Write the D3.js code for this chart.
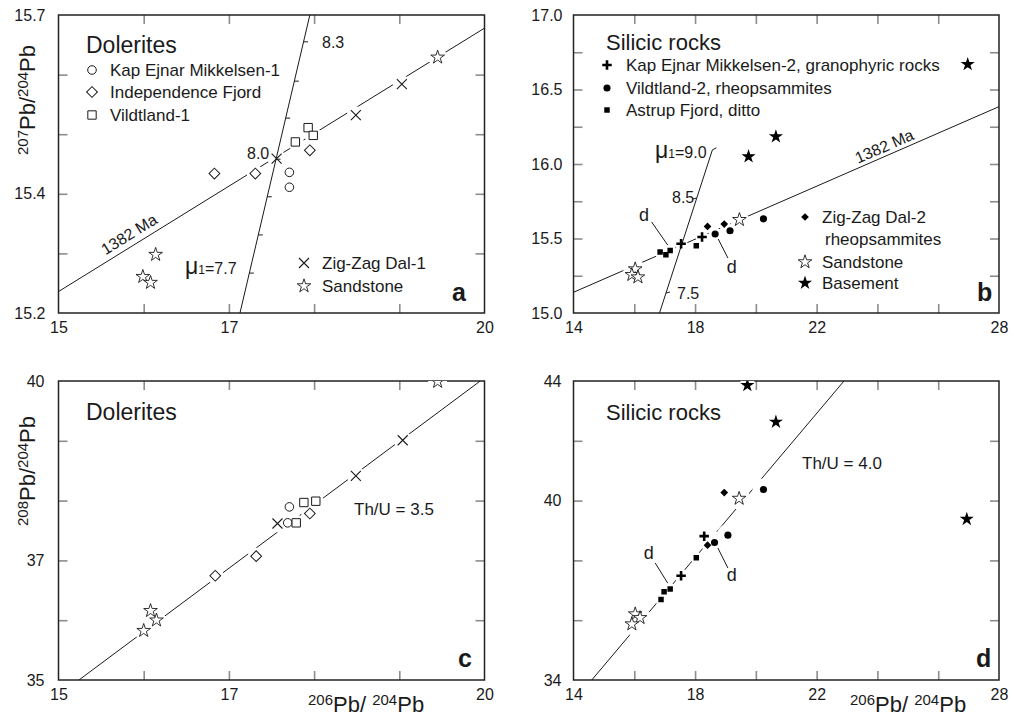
<!DOCTYPE html>
<html><head><meta charset="utf-8">
<script src="https://cdn.jsdelivr.net/npm/d3@7"></script>
<style>body{margin:0;background:#fff;} svg{display:block;}</style>
</head><body>
<svg id="chart" width="1014" height="717"></svg>
<script>
// ---------------- DATA ----------------
// Panel a : 207Pb/204Pb vs 206Pb/204Pb, dolerites
const kem1_a  = [[17.71,15.436],[17.71,15.411]];
const indep_a = [[16.83,15.434],[17.31,15.434],[17.95,15.473]];
const vild1_a = [[17.93,15.511],[17.99,15.498],[17.78,15.487]];
const zzd1_a  = [[17.56,15.459],[18.49,15.532],[19.03,15.584]];
const sand_a  = [[19.45,15.629],[16.14,15.298],[15.99,15.261],[16.08,15.251]];
const iso_a   = [[15,15.236],[20,15.678]];          // 1382 Ma reference line
const mu_a    = [[17.13,15.2],[17.95,15.7]];          // mu growth line
const muTickY_a = [15.655,15.589,15.527,15.458,15.395,15.331,15.267]; // 8.3 ... 7.7

// Panel b : 207Pb/204Pb vs 206Pb/204Pb, silicic rocks
const kem2_b  = [[17.54,15.465],[18.23,15.51]];
const vild2_b = [[18.66,15.53],[19.15,15.552],[20.25,15.632]];
const astr_b  = [[16.85,15.409],[17.04,15.391],[17.18,15.42],[18.04,15.451]];
const zzd2_b  = [[18.41,15.581],[18.96,15.597]];
const sand_b  = [[19.46,15.626],[16.03,15.295],[15.92,15.257],[16.12,15.241]];
const base_b  = [[26.97,16.669],[20.66,16.184],[19.76,16.05]];
const iso_b   = [[14,15.139],[28,16.385]];
const mu_b    = [[16.83,15.0],[18.57,16.095]];

// Panel c : 208Pb/204Pb vs 206Pb/204Pb, dolerites
const kem1_c  = [[17.71,37.895],[17.69,37.628]];
const indep_c = [[16.84,36.743],[17.32,37.071],[17.95,37.784]];
const vild1_c = [[17.88,37.968],[18.02,37.99],[17.79,37.628]];
const zzd1_c  = [[17.57,37.617],[18.49,38.413],[19.04,39.009]];
const sand_c  = [[19.45,39.99],[16.08,36.158],[16.15,36.0],[16.0,35.825]];
const thu_c   = [[15.24,35],[19.95,40]];

// Panel d : 208Pb/204Pb vs 206Pb/204Pb, silicic rocks
const kem2_d  = [[17.54,37.486],[18.30,38.811]];
const vild2_d = [[18.64,38.599],[19.08,38.844],[20.25,40.37]];
const astr_d  = [[16.88,36.695],[16.98,36.95],[17.18,37.04],[18.04,38.087]];
const zzd2_d  = [[18.41,38.51],[18.96,40.27]];
const sand_d  = [[19.45,40.07],[16.03,36.205],[16.19,36.08],[15.92,35.87]];
const base_d  = [[19.72,43.855],[20.66,42.63],[26.94,39.38]];
const thu_d   = [[14.60,34],[22.90,44]];

// Ticks and tick labels
const xTicks_ad = [16,17,18,19];      const xLabels_ad = [15,17,20];
const xTicks_bd = [16,18,20,22,24,26]; const xLabels_bd = [14,18,22,28];
const yTicks_a = [15.3,15.4,15.5,15.6]; const yLabels_a = [15.2,15.4,15.7];
const yTicks_b = [15.25,15.5,15.75,16,16.25,16.5,16.75]; const yLabels_b = [15.0,15.5,16.0,16.5,17.0];
const yTicks_c = [36,37,38,39]; const yLabels_c = [35,37,40];
const yTicks_d = [36,38,40,42]; const yLabels_d = [34,40,44];

// ---------------- DRAWING ----------------
const FONT = "'Liberation Sans', Arial, Helvetica, sans-serif";
const INK = "#1a1a1a";
const svg = d3.select("#chart").attr("font-family", FONT);

const boxes = {
  a:{l:58.5, r:484.5, t:15,  b:313},
  b:{l:573.5,r:999,   t:15,  b:313},
  c:{l:58.5, r:484.5, t:381, b:680},
  d:{l:573.5,r:999,   t:381, b:680}
};

// custom symbols
const symX = {draw(ctx,size){const h=Math.sqrt(size)/2;ctx.moveTo(-h,-h);ctx.lineTo(h,h);ctx.moveTo(h,-h);ctx.lineTo(-h,h);}};
const symPlus = {draw(ctx,size){const h=Math.sqrt(size)/2;ctx.moveTo(-h,0);ctx.lineTo(h,0);ctx.moveTo(0,-h);ctx.lineTo(0,h);}};

const STY = {
  circleO: {type:d3.symbolCircle, size:58, fill:"#fff", stroke:INK, sw:1},
  diamondO:{type:d3.symbolSquare, size:58, fill:"#fff", stroke:INK, sw:1, rot:45},
  squareO: {type:d3.symbolSquare, size:70, fill:"#fff", stroke:INK, sw:1},
  cross:   {type:symX, size:100, fill:"none", stroke:INK, sw:1.1},
  starO:   {type:d3.symbolStar, size:58, fill:"#fff", stroke:INK, sw:0.9},
  plus:    {type:symPlus, size:90, fill:"none", stroke:"#000", sw:2.6},
  circleF: {type:d3.symbolCircle, size:40, fill:"#000", stroke:"none", sw:0},
  squareF: {type:d3.symbolSquare, size:30, fill:"#000", stroke:"none", sw:0},
  diamondF:{type:d3.symbolSquare, size:30, fill:"#000", stroke:"none", sw:0, rot:45},
  starF:   {type:d3.symbolStar, size:62, fill:"#000", stroke:"none", sw:0}
};

function symbolAt(g, px, py, s){
  g.append("path")
    .attr("d", d3.symbol().type(s.type).size(s.size)())
    .attr("transform", `translate(${px},${py})` + (s.rot?` rotate(${s.rot})`:""))
    .attr("fill", s.fill).attr("stroke", s.stroke).attr("stroke-width", s.sw);
}

function makePanel(id, xDomain, yDomain, xt, xl, yt, yl, yfmt, ypad){
  const box = boxes[id];
  const x = d3.scaleLinear().domain(xDomain).range([box.l, box.r]);
  const y = d3.scaleLinear().domain(yDomain).range([box.b, box.t]);
  const g = svg.append("g");
  svg.append("clipPath").attr("id","clip-"+id).append("rect")
    .attr("x",box.l).attr("y",box.t).attr("width",box.r-box.l).attr("height",box.b-box.t);

  const tickStyle = sel => {
    sel.select(".domain").remove();
    sel.selectAll(".tick line").attr("stroke","#8c8c8c").attr("stroke-width",1.6);
  };
  g.append("g").attr("transform",`translate(0,${box.b})`)
    .call(d3.axisBottom(x).tickValues(xt).tickSize(-9).tickFormat("")).call(tickStyle);
  g.append("g").attr("transform",`translate(0,${box.t})`)
    .call(d3.axisTop(x).tickValues(xt).tickSize(-9).tickFormat("")).call(tickStyle);
  g.append("g").attr("transform",`translate(${box.l},0)`)
    .call(d3.axisLeft(y).tickValues(yt).tickSize(-9).tickFormat("")).call(tickStyle);
  g.append("g").attr("transform",`translate(${box.r},0)`)
    .call(d3.axisRight(y).tickValues(yt).tickSize(-9).tickFormat("")).call(tickStyle);

  const labStyle = sel => {
    sel.select(".domain").remove();
    sel.attr("font-family", FONT).attr("font-size", 16).attr("color", INK);
  };
  g.append("g").attr("transform",`translate(0,${box.b})`)
    .call(d3.axisBottom(x).tickValues(xl).tickSize(0).tickPadding(9).tickFormat(d3.format("d"))).call(labStyle);
  g.append("g").attr("transform",`translate(${box.l},0)`)
    .call(d3.axisLeft(y).tickValues(yl).tickSize(0).tickPadding(ypad).tickFormat(d3.format(yfmt))).call(labStyle);

  // frame
  g.append("rect").attr("x",box.l).attr("y",box.t).attr("width",box.r-box.l).attr("height",box.b-box.t)
    .attr("fill","none").attr("stroke","#222").attr("stroke-width",1.5);

  const plot = g.append("g").attr("clip-path",`url(#clip-${id})`);
  return {x, y, g, plot, box};
}

function refLine(P, pts, w){
  P.plot.append("path")
    .attr("d", d3.line()(pts.map(p=>[P.x(p[0]),P.y(p[1])])))
    .attr("fill","none").attr("stroke",INK).attr("stroke-width",w||1);
}
function halos(P, sets){
  sets.forEach(([pts, r])=>{
    P.plot.selectAll(null).data(pts).enter().append("circle")
      .attr("cx",d=>P.x(d[0])).attr("cy",d=>P.y(d[1])).attr("r",r).attr("fill","#fff");
  });
}
function points(P, pts, s){
  pts.forEach(d=>symbolAt(P.plot, P.x(d[0]), P.y(d[1]), s));
}
function text(g, x, y, str, size, opts={}){
  const t = g.append("text").attr("x",x).attr("y",y).attr("font-size",size)
    .attr("fill",INK).text(str);
  if(opts.anchor) t.attr("text-anchor",opts.anchor);
  if(opts.bold) t.attr("font-weight","bold");
  return t;
}
function lineLabel(P, pts, xv, off, str){
  const p0=[P.x(pts[0][0]),P.y(pts[0][1])], p1=[P.x(pts[1][0]),P.y(pts[1][1])];
  const ang = Math.atan2(p1[1]-p0[1], p1[0]-p0[0])*180/Math.PI;
  const t = (xv-pts[0][0])/(pts[1][0]-pts[0][0]);
  const yv = pts[0][1] + t*(pts[1][1]-pts[0][1]);
  P.g.append("text").attr("transform",`translate(${P.x(xv)},${P.y(yv)}) rotate(${ang})`)
    .attr("y",off).attr("text-anchor","middle").attr("font-size",16).attr("fill",INK).text(str);
}
function muLabel(g, x, y, val){
  const t = g.append("text").attr("x",x).attr("y",y).attr("fill",INK);
  t.append("tspan").attr("font-size",23).text("μ");
  t.append("tspan").attr("font-size",12).text("1");
  t.append("tspan").attr("font-size",16).text("=" + val);
}
function leader(P, a, b){
  P.g.append("line").attr("x1",P.x(a[0])).attr("y1",P.y(a[1])).attr("x2",P.x(b[0])).attr("y2",P.y(b[1]))
    .attr("stroke",INK).attr("stroke-width",1);
}
function isoLabel(g, x, y, parts, rot){
  const t = g.append("text").attr("fill",INK);
  if(rot) t.attr("transform",`translate(${x},${y}) rotate(-90)`).attr("text-anchor","middle");
  else t.attr("x",x).attr("y",y);
  parts.forEach(([s,sz,dy])=>t.append("tspan").attr("font-size",sz).attr("dy",dy).text(s));
}

// ---------- Panel a ----------
const A = makePanel("a",[15,20],[15.2,15.7],xTicks_ad,xLabels_ad,yTicks_a,yLabels_a,".1f",13);
refLine(A, iso_a);
halos(A, [[kem1_a,6.5],[indep_a,8.5],[vild1_a,8.5],[zzd1_a,9],[sand_a,9.5]]);
refLine(A, mu_a);
muTickY_a.forEach(v=>{
  const t=(v-mu_a[0][1])/(mu_a[1][1]-mu_a[0][1]);
  const xv=mu_a[0][0]+t*(mu_a[1][0]-mu_a[0][0]);
  A.plot.append("line").attr("x1",A.x(xv)).attr("x2",A.x(xv)+4.5).attr("y1",A.y(v)).attr("y2",A.y(v))
    .attr("stroke",INK).attr("stroke-width",1);
});
points(A, kem1_a, STY.circleO);
points(A, indep_a, STY.diamondO);
points(A, vild1_a, STY.squareO);
points(A, zzd1_a, STY.cross);
points(A, sand_a, STY.starO);
lineLabel(A, iso_a, 15.9, -6, "1382 Ma");
text(A.g, 322, 48, "8.3", 16);
text(A.g, 247, 159, "8.0", 16);
muLabel(A.g, 185, 274, "7.7");
text(A.g, 86, 53, "Dolerites", 23);
[["Kap Ejnar Mikkelsen-1",STY.circleO,70],["Independence Fjord",STY.diamondO,92],["Vildtland-1",STY.squareO,115]]
  .forEach(([s,st,yy])=>{symbolAt(A.g,92,yy,st); text(A.g,110,yy+6,s,17);});
[["Zig-Zag Dal-1",STY.cross,263],["Sandstone",STY.starO,286]]
  .forEach(([s,st,yy])=>{symbolAt(A.g,304,yy,st); text(A.g,322,yy+6,s,17);});
text(A.g, 452, 301, "a", 25, {bold:true});
isoLabel(A.g, 28, 100, [["207",15,0],["Pb/",22,7],["204",15,-7],["Pb",22,7]], true);

// ---------- Panel b ----------
const B = makePanel("b",[14,28],[15,17],xTicks_bd,xLabels_bd,yTicks_b,yLabels_b,".1f",11);
refLine(B, iso_b);
halos(B, [[kem2_b,6.5],[vild2_b,6.5],[astr_b,6],[zzd2_b,6],[sand_b,9.5],[base_b,8]]);
refLine(B, mu_b);
{
  const top=[B.x(mu_b[1][0]),B.y(mu_b[1][1])];
  B.plot.append("path").attr("d",`M${top[0]},${top[1]} l4,-2`).attr("stroke",INK).attr("fill","none");
  const at=v=>{const t=(v-mu_b[0][1])/(mu_b[1][1]-mu_b[0][1]);return [B.x(mu_b[0][0]+t*(mu_b[1][0]-mu_b[0][0])),B.y(v)];};
  const p85=at(15.772), p75=at(15.134);
  B.plot.append("path").attr("d",`M${p85[0]},${p85[1]} l-4,1`).attr("stroke",INK).attr("fill","none");
  B.plot.append("path").attr("d",`M${p75[0]},${p75[1]} l4,-1`).attr("stroke",INK).attr("fill","none");
}
points(B, astr_b, STY.squareF);
points(B, zzd2_b, STY.diamondF);
points(B, vild2_b, STY.circleF);
points(B, kem2_b, STY.plus);
points(B, sand_b, STY.starO);
points(B, base_b, STY.starF);
lineLabel(B, iso_b, 24.35, -4, "1382 Ma");
muLabel(B.g, 655, 158, "9.0");
text(B.g, 672, 203, "8.5", 16);
text(B.g, 677, 299, "7.5", 16);
text(B.g, B.x(16.32), B.y(15.658)+6, "d", 18, {anchor:"middle"});
leader(B, [16.57,15.611],[17.10,15.456]);
text(B.g, B.x(19.21), B.y(15.309)+6, "d", 18, {anchor:"middle"});
leader(B, [18.76,15.497],[19.08,15.369]);
text(B.g, 606, 50, "Silicic rocks", 22);
[["Kap Ejnar Mikkelsen-2, granophyric rocks",STY.plus,65],["Vildtland-2, rheopsammites",STY.circleF,88],["Astrup Fjord, ditto",STY.squareF,110]]
  .forEach(([s,st,yy])=>{symbolAt(B.g,607,yy,st); text(B.g,626,yy+6,s,17);});
symbolAt(B.g,805,217,STY.diamondF); text(B.g,822,223,"Zig-Zag Dal-2",17);
text(B.g,825,245,"rheopsammites",17);
symbolAt(B.g,805,262,STY.starO); text(B.g,822,268,"Sandstone",17);
symbolAt(B.g,805,283,STY.starF); text(B.g,822,289,"Basement",17);
text(B.g, 977, 301, "b", 25, {bold:true});

// ---------- Panel c ----------
const C = makePanel("c",[15,20],[35,40],xTicks_ad,xLabels_ad,yTicks_c,yLabels_c,"d",14);
refLine(C, thu_c);
halos(C, [[kem1_c,6.5],[indep_c,8.5],[vild1_c,8],[zzd1_c,9],[sand_c,9.5]]);
points(C, kem1_c, STY.circleO);
points(C, vild1_c, STY.squareO);
points(C, indep_c, STY.diamondO);
points(C, zzd1_c, STY.cross);
points(C, sand_c, STY.starO);
text(C.g, 86, 420, "Dolerites", 23);
text(C.g, 354, 515, "Th/U = 3.5", 17);
text(C.g, 458, 667, "c", 25, {bold:true});
isoLabel(C.g, 28, 471, [["208",15,0],["Pb/",22,7],["204",15,-7],["Pb",22,7]], true);
isoLabel(C.g, 308, 705, [["206",15,0],["Pb/ ",22,7],["204",15,-7],["Pb",22,7]]);

// ---------- Panel d ----------
const D = makePanel("d",[14,28],[34,44],xTicks_bd,xLabels_bd,yTicks_d,yLabels_d,"d",12);
refLine(D, thu_d);
halos(D, [[kem2_d,7],[vild2_d,11],[astr_d,6],[zzd2_d,6],[sand_d,11],[base_d,8]]);
points(D, astr_d, STY.squareF);
points(D, zzd2_d, STY.diamondF);
points(D, vild2_d, STY.circleF);
points(D, kem2_d, STY.plus);
points(D, sand_d, STY.starO);
points(D, base_d, STY.starF);
text(D.g, 606, 420, "Silicic rocks", 22);
text(D.g, 802, 469, "Th/U = 4.0", 17);
text(D.g, D.x(16.48), D.y(38.25)+6, "d", 18, {anchor:"middle"});
leader(D, [16.69,37.91],[17.10,37.24]);
text(D.g, D.x(19.21), D.y(37.51)+6, "d", 18, {anchor:"middle"});
leader(D, [18.75,38.415],[19.08,37.745]);
text(D.g, 976, 667, "d", 25, {bold:true});
isoLabel(D.g, 850, 705, [["206",15,0],["Pb/ ",22,7],["204",15,-7],["Pb",22,7]]);
</script>
</body></html>
